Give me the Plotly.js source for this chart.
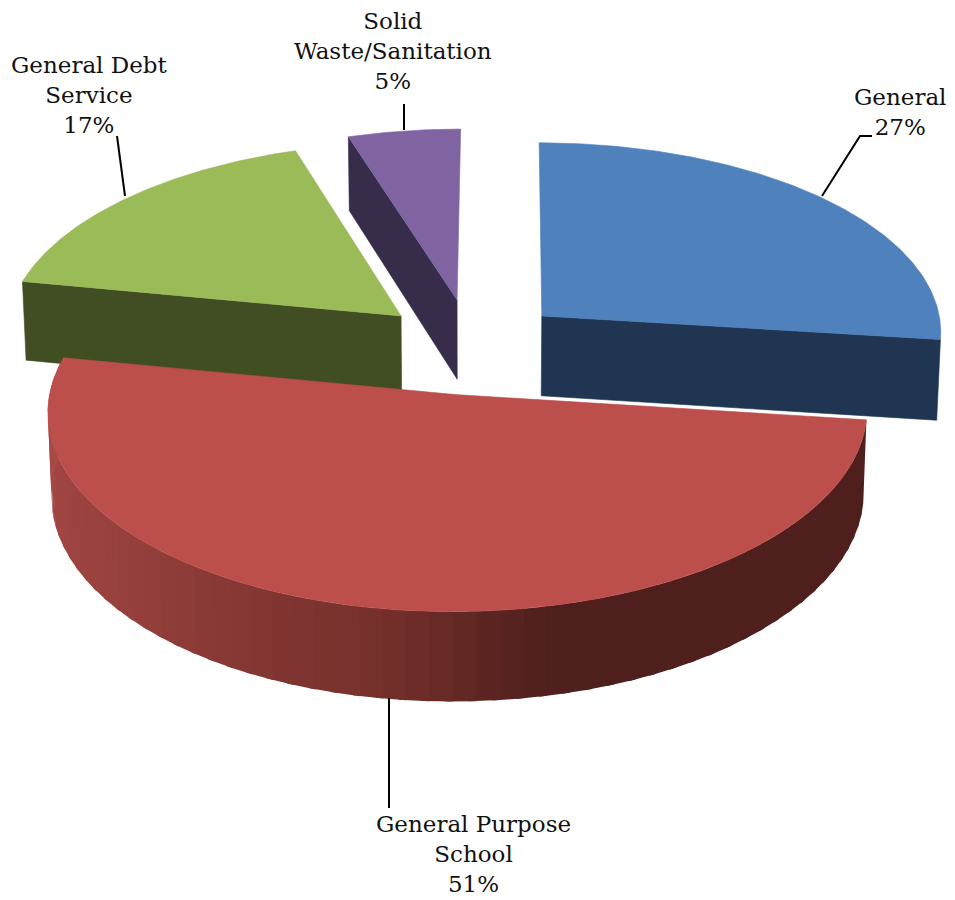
<!DOCTYPE html>
<html>
<head>
<meta charset="utf-8">
<script src="https://cdn.plot.ly/plotly-3.0.1.min.js"></script>
<style>html,body{margin:0;padding:0;background:#fff}#chart{width:955px;height:900px}</style>
</head>
<body>
<div id="chart"></div>
<script>
// Budget shares, clockwise from twelve o'clock
const categories = ['General', 'General Purpose School', 'General Debt Service', 'Solid Waste/Sanitation'];
const shares = [27, 51, 17, 5];
const labelLines = [['General'], ['General Purpose', 'School'], ['General Debt', 'Service'], ['Solid', 'Waste/Sanitation']];
const topColors = ['#4F81BD', '#BC4F4C', '#9BBB59', '#8064A2'];
const wallColors = ['#1F3552', '#7A2F2C', '#414E23', '#372C49'];

// Tilted-disc view of the exploded pie, in page pixels
const view = {cx: 471, cy: 349, rx: 403, ry: 192, persp: 0.08, depth: 81, pull: 0.236, shear: 2.5};

function project(X, Y, z) {
  const s = 1 / (1 + view.persp * Y);
  const shrink = 1 - 0.008 * z;
  return [view.cx + view.shear * Y + view.rx * X * s * shrink, view.cy - view.ry * Y * s + view.depth * z * s];
}
const toRad = d => d * Math.PI / 180;

// Angular span of each slice derived from its share
const total = shares.reduce((a, b) => a + b, 0);
let running = 0;
const slices = shares.map((v, i) => {
  const a0 = running / total * 360;
  running += v;
  const a1 = running / total * 360;
  const mid = toRad((a0 + a1) / 2);
  const up = Math.cos(mid);
  return {i, a0, a1, ox: view.pull * Math.sin(mid), oy: view.pull * up * (up > 0 ? 1.12 : 1)};
});
function rim(sl, deg, z) {
  const sn = Math.sin(toRad(deg));
  return project(sl.ox + sn * (sn < 0 ? 0.988 : 1), sl.oy + Math.cos(toRad(deg)), z);
}
const apex = (sl, z) => project(sl.ox, sl.oy, z);

function poly(points, color, width) {
  return {
    type: 'scatter', mode: 'lines', x: points.map(p => p[0]), y: points.map(p => p[1]),
    fill: 'toself', fillcolor: color, line: {color: color, width: width === undefined ? 0.6 : width},
    hoverinfo: 'skip', showlegend: false
  };
}
function topFace(sl) {
  const pts = [apex(sl, 0)];
  const n = Math.ceil((sl.a1 - sl.a0) * 1.5);
  for (let k = 0; k <= n; k++) pts.push(rim(sl, sl.a0 + (sl.a1 - sl.a0) * k / n, 0));
  pts.push(apex(sl, 0));
  return poly(pts, topColors[sl.i]);
}
function cutWall(sl, deg) {
  return poly([apex(sl, 0), rim(sl, deg, 0), rim(sl, deg, 1), apex(sl, 1), apex(sl, 0)], wallColors[sl.i]);
}

// Shading along the curved wall of the large slice, right end to left end
const wallStops = [[0, [78, 31, 28]], [0.38, [78, 31, 28]], [0.5, [117, 48, 43]], [0.72, [150, 64, 60]], [1, [172, 76, 72]]];
function wallColor(t) {
  for (let k = 1; k < wallStops.length; k++) {
    if (t <= wallStops[k][0]) {
      const [t0, c0] = wallStops[k - 1], [t1, c1] = wallStops[k];
      const f = (t - t0) / (t1 - t0);
      return 'rgb(' + c0.map((c, j) => Math.round(c + (c1[j] - c) * f)).join(',') + ')';
    }
  }
  return 'rgb(172,76,72)';
}
function curvedWall(sl) {
  const out = [], bands = 60;
  for (let b = 0; b < bands; b++) {
    const d0 = sl.a0 + (sl.a1 - sl.a0) * b / bands;
    // each band runs under the next one so no seams show
    const d1 = Math.min(sl.a1, d0 + (sl.a1 - sl.a0) / bands + 1);
    const pts = [];
    for (let k = 0; k <= 6; k++) pts.push(rim(sl, d0 + (d1 - d0) * k / 6, 0));
    for (let k = 6; k >= 0; k--) pts.push(rim(sl, d0 + (d1 - d0) * k / 6, 1));
    pts.push(pts[0]);
    out.push(poly(pts, wallColor((b + 0.5) / bands), 0));
  }
  return out;
}

const [blue, red, green, purple] = slices;
const traces = [
  cutWall(purple, purple.a0), topFace(purple),
  cutWall(green, green.a0), topFace(green),
  cutWall(blue, blue.a1), topFace(blue),
  ...curvedWall(red), topFace(red)
];

// Label text and leader lines, placed in page pixels
const labelAnchors = [[900, 82], [473, 809], [89, 50], [393, 6]];
const leaders = [
  [[822, 196], [860, 136], [872, 136]],
  [[389, 698], [389, 808]],
  [[125, 196], [117, 136]],
  [[404, 130], [404, 104]]
];
const annotations = categories.map((c, i) => ({
  x: labelAnchors[i][0], y: labelAnchors[i][1], xref: 'x', yref: 'y',
  text: labelLines[i].concat([shares[i] + '%']).join('<br>'),
  showarrow: false, align: 'center', xanchor: 'center', yanchor: 'top',
  font: {family: '"DejaVu Serif", serif', size: 23, color: '#111'}
}));
const leaderTraces = leaders.map(l => ({
  type: 'scatter', mode: 'lines', x: l.map(p => p[0]), y: l.map(p => p[1]),
  line: {color: '#000', width: 2}, hoverinfo: 'skip', showlegend: false
}));

Plotly.newPlot('chart', traces.concat(leaderTraces), {
  width: 955, height: 900,
  margin: {l: 0, r: 0, t: 0, b: 0},
  paper_bgcolor: '#fff', plot_bgcolor: '#fff',
  showlegend: false, hovermode: false,
  xaxis: {range: [0, 955], visible: false, fixedrange: true},
  yaxis: {range: [900, 0], visible: false, fixedrange: true},
  annotations
}, {displayModeBar: false, staticPlot: true});
</script>
</body>
</html>
